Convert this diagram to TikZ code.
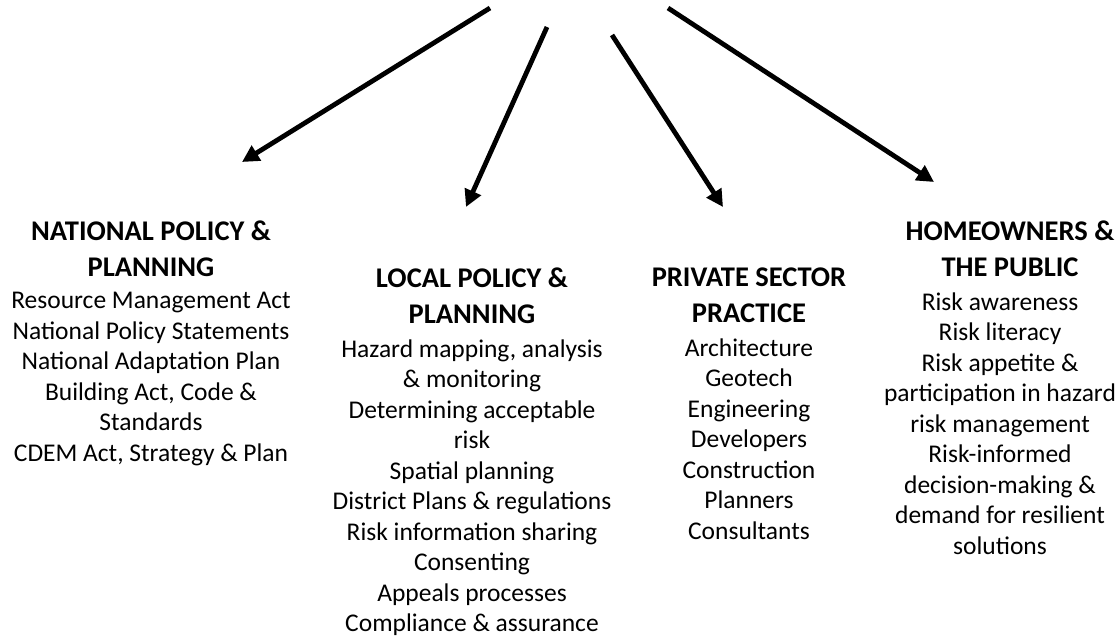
\documentclass[tikz,border=0pt]{standalone}
\usepackage{fontspec}
\setmainfont{Carlito}
\usetikzlibrary{arrows.meta,positioning}

\tikzset{
  head/.style={anchor=north, align=center, inner sep=0pt,
    font=\fontsize{28.5}{36}\selectfont\bfseries},
  items/.style={below=15pt of #1, align=center, inner sep=0pt,
    font=\fontsize{25.5}{30.5}\selectfont},
  link/.style={-{Triangle[length=17pt,width=17pt]}, line width=4.8pt},
}

\begin{document}
\begin{tikzpicture}[x=1pt, y=-1pt]
  \useasboundingbox (0,0) rectangle (1119,643);

  % the four groups
  \node [head] (national) at (151,221) {NATIONAL POLICY \&\\PLANNING};
  \node [items=national] (nationalList) {Resource Management Act\\National Policy Statements\\National Adaptation Plan\\Building Act, Code \&\\Standards\\CDEM Act, Strategy \& Plan};

  \node [head] (local) at (472,268) {LOCAL POLICY \&\\PLANNING};
  \node [items=local] (localList) {Hazard mapping, analysis\\\& monitoring\\Determining acceptable\\risk\\Spatial planning\\District Plans \& regulations\\Risk information sharing\\Consenting\\Appeals processes\\Compliance \& assurance};

  \node [head] (private) at (749,268) {PRIVATE SECTOR\\PRACTICE};
  \node [items=private] (privateList) {Architecture\\Geotech\\Engineering\\Developers\\Construction\\Planners\\Consultants};

  \node [head] (public) at (1010,221) {HOMEOWNERS \&\\THE PUBLIC};
  \node [items=public, xshift=-10pt] (publicList) {Risk awareness\\Risk literacy\\Risk appetite \&\\participation in hazard\\risk management\\Risk-informed\\decision-making \&\\demand for resilient\\solutions};

  % arrows coming in from above
  \coordinate (fromNational) at (490,8);
  \coordinate (fromLocal) at (547,27);
  \coordinate (fromPrivate) at (612,35);
  \coordinate (fromPublic) at (668,8);
  \coordinate (toNational) at (242,162);
  \coordinate (toLocal) at (466,207);
  \coordinate (toPrivate) at (723,207);
  \coordinate (toPublic) at (934,182);

  \draw [link] (fromNational) -- (toNational);
  \draw [link] (fromLocal) -- (toLocal);
  \draw [link] (fromPrivate) -- (toPrivate);
  \draw [link] (fromPublic) -- (toPublic);

\end{tikzpicture}
\end{document}
